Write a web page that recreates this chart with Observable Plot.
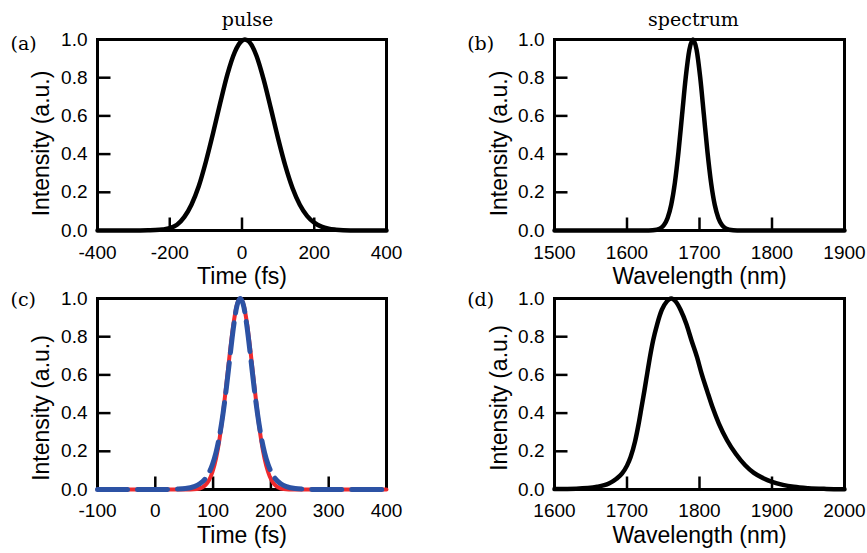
<!DOCTYPE html>
<html>
<head>
<meta charset="utf-8">
<script src="https://cdn.jsdelivr.net/npm/d3@7"></script>
<script src="https://cdn.jsdelivr.net/npm/@observablehq/plot@0.6"></script>
<style>
  html, body { margin: 0; padding: 0; background: #fff; }
  #fig { position: relative; width: 867px; height: 553px; overflow: hidden; background: #fff; }
  #fig > div { position: absolute; }
</style>
</head>
<body>
<div id="fig"></div>
<script>
// ---------- data ----------
// (a) input pulse, time domain
const pulseTime = [-400, -300, -260, -240, -220, -200, -180, -160, -140, -120, -100, -80, -60, -40, -20, 0, 8, 20, 40, 60, 80, 100, 120, 140, 160, 180, 200, 220, 240, 260, 300, 400];
const pulseIntensity = [0, 0, 0.001, 0.002, 0.005, 0.012, 0.03, 0.07, 0.135, 0.23, 0.36, 0.51, 0.67, 0.82, 0.934, 0.994, 1.0, 0.988, 0.915, 0.79, 0.638, 0.481, 0.338, 0.221, 0.135, 0.077, 0.041, 0.02, 0.009, 0.004, 0, 0];

// (b) input spectrum
const specWavelength = [1500, 1630, 1641, 1646, 1651, 1656, 1661, 1666, 1671, 1676, 1681, 1686, 1691, 1696, 1701, 1706, 1711, 1716, 1721, 1726, 1731, 1736, 1741, 1752, 1900];
const specIntensity = [0, 0, 0.004, 0.011, 0.029, 0.066, 0.135, 0.249, 0.411, 0.607, 0.801, 0.946, 1.0, 0.946, 0.801, 0.607, 0.411, 0.249, 0.135, 0.066, 0.029, 0.011, 0.004, 0, 0];

// (c) output pulse: red solid and blue dashed curves
const redTime = [-100, 50, 72, 81, 87, 93, 99, 105, 111, 117, 123, 129, 135, 141, 147, 153, 159, 165, 171, 177, 183, 189, 195, 201, 207, 213, 222, 240, 400];
const redIntensity = [0, 0, 0.003, 0.011, 0.024, 0.049, 0.093, 0.162, 0.262, 0.395, 0.552, 0.716, 0.862, 0.964, 1.0, 0.964, 0.862, 0.716, 0.552, 0.395, 0.262, 0.162, 0.093, 0.049, 0.024, 0.011, 0.003, 0, 0];
const blueTime = [-100, 7, 37, 52, 67, 77, 87, 93, 99, 105, 111, 117, 123, 129, 135, 141, 147, 153, 159, 165, 171, 177, 183, 189, 195, 201, 207, 217, 227, 242, 257, 287, 400];
const blueIntensity = [0, 0, 0.002, 0.005, 0.015, 0.03, 0.059, 0.089, 0.132, 0.193, 0.279, 0.393, 0.533, 0.691, 0.844, 0.958, 1.0, 0.958, 0.844, 0.691, 0.533, 0.393, 0.279, 0.193, 0.132, 0.089, 0.059, 0.03, 0.015, 0.005, 0.002, 0, 0];

// (d) output spectrum
const outWavelength = [1600, 1630, 1659, 1675, 1685, 1693, 1700, 1705, 1711, 1716, 1720, 1724, 1728, 1731.5, 1736, 1741.6, 1748, 1755, 1761, 1767, 1774, 1782, 1789, 1796.8, 1803, 1810.6, 1818, 1826.7, 1838, 1850, 1863, 1875, 1888, 1900, 1915, 1930, 1950, 1975, 2000];
const outIntensity = [0.002, 0.004, 0.014, 0.031, 0.055, 0.083, 0.125, 0.17, 0.25, 0.343, 0.43, 0.517, 0.61, 0.69, 0.78, 0.865, 0.94, 0.985, 1.0, 0.985, 0.94, 0.865, 0.78, 0.69, 0.605, 0.515, 0.43, 0.345, 0.258, 0.187, 0.127, 0.087, 0.059, 0.04, 0.024, 0.014, 0.007, 0.003, 0.001];

// ticks and labels
const xTicksA = [-400, -200, 0, 200, 400];
const xTicksB = [1500, 1600, 1700, 1800, 1900];
const xTicksC = [-100, 0, 100, 200, 300, 400];
const xTicksD = [1600, 1700, 1800, 1900, 2000];
const yTicks = [0, 0.2, 0.4, 0.6, 0.8, 1.0];
const timeLabel = "Time (fs)";
const wavelengthLabel = "Wavelength (nm)";
const intensityLabel = "Intensity (a.u.)";
const columnTitles = ["pulse", "spectrum"];
const panelLetters = ["(a)", "(b)", "(c)", "(d)"];

// ---------- drawing ----------
const table = (xs, ys) => xs.map((x, i) => ({x, y: ys[i]}));
const SANS = "'Liberation Sans', Arial, Helvetica, sans-serif";
const SERIF = "'DejaVu Serif', serif";
const TICK = 13;
// inward tick glyphs: up from the bottom frame edge, right from the left frame edge
const tickUp = {draw(ctx) { ctx.moveTo(0, 0); ctx.lineTo(0, -TICK); }};
const tickRight = {draw(ctx) { ctx.moveTo(0, 0); ctx.lineTo(TICK, 0); }};

function panel(o) {
  const xd = [o.xTicks[0], o.xTicks[o.xTicks.length - 1]];
  const innerX = o.xTicks.slice(1, -1);
  const innerY = yTicks.slice(1, -1);
  const marks = [
    Plot.axisX({ticks: o.xTicks, tickFormat: d => String(d), tickSize: 0, tickPadding: o.xPad, label: null, fontSize: 19}),
    Plot.axisY({ticks: yTicks, tickFormat: d => d.toFixed(1), tickSize: 0, tickPadding: 10, label: null, fontSize: 19}),
    Plot.frame({stroke: "black", strokeWidth: 3}),
    Plot.dot(innerX, {x: d => d, y: 0, symbol: tickUp, fill: "none", stroke: "black", strokeWidth: 2.5}),
    Plot.dot(innerY, {x: xd[0], y: d => d, symbol: tickRight, fill: "none", stroke: "black", strokeWidth: 2.5}),
    ...o.lines,
    Plot.text([o.xLabel], {text: d => d, frameAnchor: "bottom", dy: o.xLabelDy, textAnchor: "middle", lineAnchor: "bottom", fontSize: 23, fill: "black"}),
    Plot.text([intensityLabel], {text: d => d, frameAnchor: "left", rotate: -90, dx: o.yLabelDx, dy: o.yLabelDy, textAnchor: "middle", lineAnchor: "bottom", fontSize: 23, fill: "black"}),
    Plot.text([o.letter], {text: d => d, frameAnchor: "top-left", dx: o.letterDx, dy: o.letterDy, textAnchor: "start", lineAnchor: "bottom", fontFamily: SERIF, fontSize: 19, fill: "black"})
  ];
  if (o.title) marks.push(Plot.text([o.title], {text: d => d, frameAnchor: "top", dx: o.titleDx, dy: -14, textAnchor: "middle", lineAnchor: "bottom", fontFamily: SERIF, fontSize: 19, fill: "black"}));
  return Plot.plot({
    width: o.width, height: o.height,
    marginLeft: o.ml, marginRight: o.mr, marginTop: o.mt, marginBottom: o.mb,
    style: {background: "transparent", overflow: "visible", fontFamily: SANS, fontSize: "19px", color: "black"},
    x: {domain: xd},
    y: {domain: [0, 1]},
    marks
  });
}

const blackLine = (xs, ys) => Plot.line(table(xs, ys), {x: "x", y: "y", stroke: "black", strokeWidth: 4.5, curve: "monotone-x"});

const configs = [
  {left: 0, top: 0, width: 433, height: 290, ml: 97, mr: 47, mt: 39, mb: 60, xTicks: xTicksA, xPad: 15, xLabel: timeLabel, xLabelDy: 53,
   yLabelDx: -49, yLabelDy: 8.5, letter: panelLetters[0], letterDx: -87, letterDy: 10, title: columnTitles[0], titleDx: 5.5,
   lines: [blackLine(pulseTime, pulseIntensity)]},
  {left: 433, top: 0, width: 434, height: 290, ml: 121, mr: 23, mt: 39, mb: 60, xTicks: xTicksB, xPad: 15, xLabel: wavelengthLabel, xLabelDy: 53,
   yLabelDx: -48, yLabelDy: 8.5, letter: panelLetters[1], letterDx: -87.3, letterDy: 10, title: columnTitles[1], titleDx: -6,
   lines: [blackLine(specWavelength, specIntensity)]},
  {left: 0, top: 276, width: 433, height: 277, ml: 97, mr: 47, mt: 22, mb: 64, xTicks: xTicksC, xPad: 14, xLabel: timeLabel, xLabelDy: 53,
   yLabelDx: -49, yLabelDy: 14, letter: panelLetters[2], letterDx: -87, letterDy: 7,
   lines: [
     Plot.line(table(redTime, redIntensity), {x: "x", y: "y", stroke: "#ee2a2e", strokeWidth: 4, curve: "monotone-x"}),
     Plot.line(table(blueTime, blueIntensity), {x: "x", y: "y", stroke: "#2c52a4", strokeWidth: 5, strokeDasharray: "30,10", curve: "monotone-x"})
   ]},
  {left: 433, top: 276, width: 434, height: 277, ml: 121, mr: 23, mt: 22, mb: 64, xTicks: xTicksD, xPad: 14, xLabel: wavelengthLabel, xLabelDy: 53,
   yLabelDx: -47.5, yLabelDy: 4, letter: panelLetters[3], letterDx: -87.3, letterDy: 7,
   lines: [blackLine(outWavelength, outIntensity)]}
];

const fig = document.getElementById("fig");
for (const c of configs) {
  const holder = document.createElement("div");
  holder.style.left = c.left + "px";
  holder.style.top = c.top + "px";
  holder.style.width = c.width + "px";
  holder.style.height = c.height + "px";
  holder.appendChild(panel(c));
  fig.appendChild(holder);
}
</script>
</body>
</html>
